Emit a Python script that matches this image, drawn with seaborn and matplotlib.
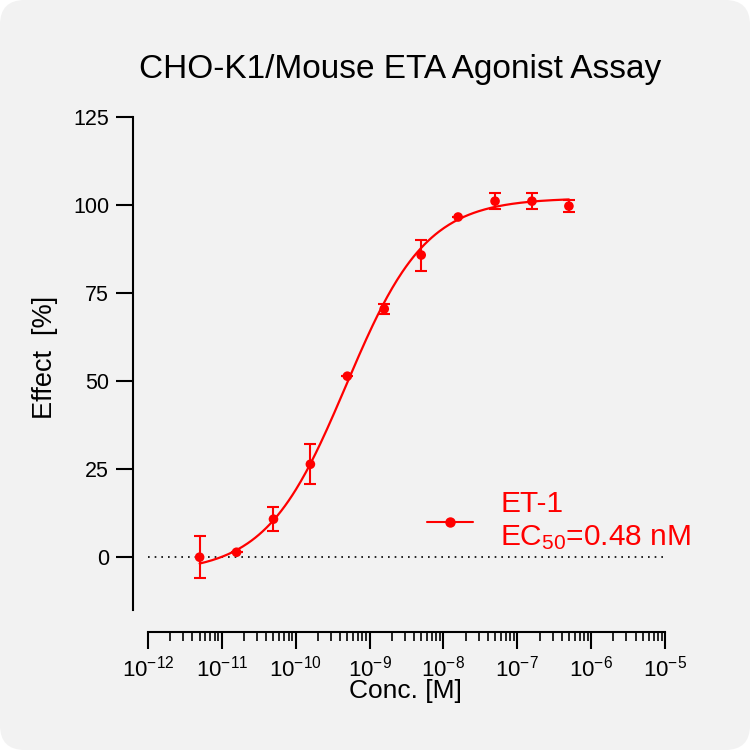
import matplotlib
matplotlib.use("Agg")
import matplotlib.pyplot as plt
import numpy as np
import seaborn as sns
from matplotlib.lines import Line2D
from matplotlib.patches import FancyBboxPatch
from matplotlib.ticker import LogLocator, NullFormatter

# concentrations (M), mean effect (%) and error bars
conc = [5e-12, 1.58e-11, 5e-11, 1.58e-10, 5e-10, 1.58e-9, 5e-9, 1.58e-8, 5e-8, 1.58e-7, 5e-7]
effect = [0.0, 1.4, 10.8, 26.4, 51.4, 70.5, 85.8, 96.6, 101.1, 101.1, 99.7]
err = [6.0, 0.0, 3.4, 5.7, 0.0, 1.5, 4.4, 0.0, 2.3, 2.3, 1.7]

# 4PL fit parameters (EC50 from the legend)
fit_bottom = -4.5
fit_top = 102.0
fit_ec50 = 0.48e-9
fit_hill = 0.8

series_label = "ET-1\nEC$_{50}$=0.48 nM"
title = "CHO-K1/Mouse ETA Agonist Assay"
red = "#ff0000"


def main():
    sns.set_style("ticks")
    plt.rcParams["font.family"] = ["Liberation Sans", "DejaVu Sans"]
    plt.rcParams["mathtext.fontset"] = "custom"
    plt.rcParams["mathtext.rm"] = "Liberation Sans"
    plt.rcParams["mathtext.it"] = "Liberation Sans:italic"
    plt.rcParams["mathtext.bf"] = "Liberation Sans:bold"

    fig = plt.figure(figsize=(7.5, 7.5), dpi=100, facecolor="white")
    bg = FancyBboxPatch((0, 0), 1, 1, boxstyle="round,pad=0,rounding_size=0.033",
                        transform=fig.transFigure, facecolor="#f2f2f2",
                        edgecolor="none", zorder=-10)
    fig.patches.append(bg)

    ax = fig.add_axes([148 / 750, 1 - 610 / 750, 517 / 750, 493 / 750])
    ax.set_facecolor("none")
    ax.set_xscale("log")

    # fitted curve
    xs = np.logspace(np.log10(conc[0]), np.log10(conc[-1]), 300)
    ys = fit_bottom + (fit_top - fit_bottom) / (1 + (fit_ec50 / xs) ** fit_hill)
    sns.lineplot(x=xs, y=ys, ax=ax, color=red, lw=1.6)

    ax.errorbar(conc, effect, yerr=err, fmt="none", ecolor=red,
                elinewidth=1.5, capsize=4, capthick=1.5, zorder=3)
    sns.scatterplot(x=conc, y=effect, ax=ax, color=red, s=48,
                    edgecolor="none", zorder=4)

    ax.axhline(0, color="black", ls=(0, (1, 3)), lw=1.2, zorder=1)

    ax.set_xlim(1e-12, 1e-5)
    ax.set_ylim(-15, 125)
    ax.set_yticks([0, 25, 50, 75, 100, 125])
    ax.xaxis.set_major_locator(LogLocator(base=10, numticks=10))
    ax.xaxis.set_minor_locator(LogLocator(base=10, subs=np.arange(2, 10), numticks=20))
    ax.xaxis.set_minor_formatter(NullFormatter())

    sns.despine(ax=ax)
    ax.spines["left"].set_position(("outward", 11))
    ax.spines["bottom"].set_position(("outward", 16))
    for s in ("left", "bottom"):
        ax.spines[s].set_linewidth(1.5)
        ax.spines[s].set_color("black")

    ax.tick_params(axis="y", which="major", length=12, width=1.5, pad=5,
                   labelsize=15.5, colors="black")
    ax.tick_params(axis="x", which="major", length=12.5, width=1.5, pad=4,
                   labelsize=16, colors="black")
    ax.tick_params(axis="x", which="minor", length=6.5, width=1.2, colors="black")
    ax.set_xlabel("")
    ax.set_ylabel("")

    handle = Line2D([], [], color=red, lw=1.5, marker="o", markersize=6.5)
    leg = ax.legend([handle], [series_label], loc="center left",
                    bbox_to_anchor=(0.54, 0.1805), frameon=False, fontsize=21.5,
                    handlelength=1.55, handletextpad=0.9, borderpad=0,
                    borderaxespad=0)
    for t in leg.get_texts():
        t.set_color(red)

    fig.text(400 / 750, 1 - 78 / 750, title, ha="center", va="baseline",
             fontsize=24, color="black")
    fig.text(45 / 750, 1 - 357 / 750, "Effect  [%]", rotation=90,
             ha="center", va="center", fontsize=19.5, color="black")
    fig.text(405 / 750, 1 - 698 / 750, "Conc. [M]", ha="center",
             va="baseline", fontsize=19, color="black")

    fig.savefig("out.png", dpi=100, facecolor="white")


if __name__ == "__main__":
    main()
